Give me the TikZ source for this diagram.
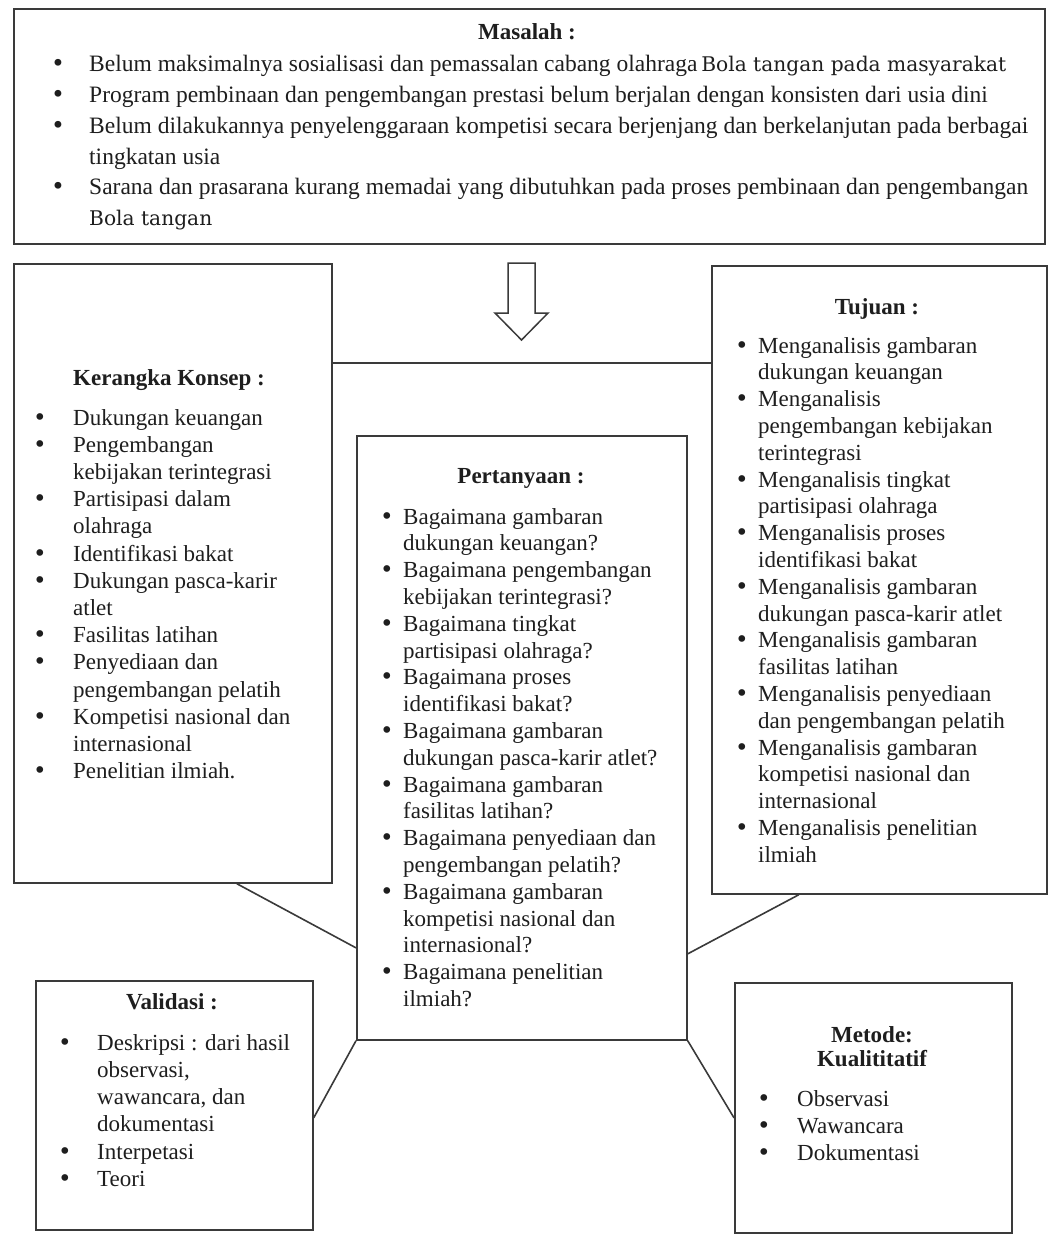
\documentclass[tikz,border=0pt]{standalone}
\usepackage{fontspec}
\setmainfont{Liberation Serif}
\newfontfamily\bolafont{DejaVu Serif}
\newfontfamily\bulfont{DejaVu Sans}
\usetikzlibrary{calc}
\definecolor{linec}{HTML}{3A3A3A}
\definecolor{textc}{HTML}{1E1E1E}
\newcommand{\bi}{{\bulfont •}}
\begin{document}
\begin{tikzpicture}[x=1pt,y=-1pt,
  box/.style={draw=linec,line width=1.7pt,inner sep=0pt,anchor=north west},
  topbox/.style={draw=linec,line width=2.4pt,inner sep=0pt,anchor=north west},
  conn/.style={draw=linec,line width=1.6pt},
  ttl/.style={inner sep=0pt,anchor=base,text=textc,font=\fontsize{23}{26}\selectfont\bfseries},
  lst/.style={inner sep=0pt,anchor=base west,text=textc,align=left}
]
\useasboundingbox (0,0) rectangle (1048,1252);
\fill[white] (0,0) rectangle (1048,1252);

% boxes
\node[topbox,minimum width=1031pt,minimum height=235pt] (mas) at (13,8) {};
\node[box,minimum width=318pt,minimum height=619pt] (ker) at (13,263) {};
\node[box,minimum width=335pt,minimum height=628pt] (tuj) at (711,265) {};
\node[box,minimum width=330pt,minimum height=604pt] (per) at (356,435) {};
\node[box,minimum width=277pt,minimum height=249pt] (val) at (35,980) {};
\node[box,minimum width=277pt,minimum height=250pt] (met) at (734,982) {};

% arrow
\coordinate (ar) at (521.5,263);
\draw[linec,line width=1.5pt,fill=white,line join=miter]
  ($(ar)+(-13.5,0)$) -- ($(ar)+(13.5,0)$) -- ($(ar)+(13.5,50)$) -- ($(ar)+(26.5,50)$)
  -- ($(ar)+(0,77)$) -- ($(ar)+(-26.5,50)$) -- ($(ar)+(-13.5,50)$) -- cycle;

% connectors
\draw[conn] ([yshift=210.5pt]ker.east) -- ([yshift=210.5pt]ker.east -| tuj.west);
\draw[conn] ([xshift=64pt]ker.south) -- ([yshift=-210pt]per.west);
\draw[conn] ([xshift=-80.5pt]tuj.south) -- ([yshift=-216pt]per.east);
\draw[conn] (per.south west) -- ([yshift=-12.5pt]val.east);
\draw[conn] (per.south east) -- ([yshift=-10pt]met.west);

% Masalah
\node[ttl] (masT) at (527,40) {Masalah :};
\node[lst,font=\fontsize{23.5}{30.7}\selectfont] (masL) at (51,72) {%
\begin{tabular}[t]{@{}p{38pt}@{}l@{}}
\bi & Belum maksimalnya sosialisasi dan pemassalan cabang olahraga\,{\bolafont\fontsize{20.2}{20}\selectfont Bola tangan pada masyarakat}\\
\bi & Program pembinaan dan pengembangan prestasi belum berjalan dengan konsisten dari usia dini\\
\bi & Belum dilakukannya penyelenggaraan kompetisi secara berjenjang dan berkelanjutan pada berbagai\\
 & tingkatan usia\\
\bi & Sarana dan prasarana kurang memadai yang dibutuhkan pada proses pembinaan dan pengembangan\\
 & {\bolafont\fontsize{20.2}{20}\selectfont Bola tangan}
\end{tabular}};

% Kerangka Konsep
\node[ttl,anchor=base west] (kerT) at (73,385) {Kerangka Konsep :};
\node[lst,font=\fontsize{23}{27.2}\selectfont] (kerL) at (33,425) {%
\begin{tabular}[t]{@{}p{40pt}@{}l@{}}
\bi & Dukungan keuangan\\
\bi & Pengembangan\\
 & kebijakan terintegrasi\\
\bi & Partisipasi dalam\\
 & olahraga\\
\bi & Identifikasi bakat\\
\bi & Dukungan pasca-karir\\
 & atlet\\
\bi & Fasilitas latihan\\
\bi & Penyediaan dan\\
 & pengembangan pelatih\\
\bi & Kompetisi nasional dan\\
 & internasional\\
\bi & Penelitian ilmiah.
\end{tabular}};

% Pertanyaan
\node[ttl] (perT) at (521,483) {Pertanyaan :};
\node[lst,font=\fontsize{23}{26.8}\selectfont] (perL) at (380,524) {%
\begin{tabular}[t]{@{}p{23pt}@{}l@{}}
\bi & Bagaimana gambaran\\
 & dukungan keuangan?\\
\bi & Bagaimana pengembangan\\
 & kebijakan terintegrasi?\\
\bi & Bagaimana tingkat\\
 & partisipasi olahraga?\\
\bi & Bagaimana proses\\
 & identifikasi bakat?\\
\bi & Bagaimana gambaran\\
 & dukungan pasca-karir atlet?\\
\bi & Bagaimana gambaran\\
 & fasilitas latihan?\\
\bi & Bagaimana penyediaan dan\\
 & pengembangan pelatih?\\
\bi & Bagaimana gambaran\\
 & kompetisi nasional dan\\
 & internasional?\\
\bi & Bagaimana penelitian\\
 & ilmiah?
\end{tabular}};

% Tujuan
\node[ttl] (tujT) at (877,314) {Tujuan :};
\node[lst,font=\fontsize{23}{26.8}\selectfont] (tujL) at (735,353) {%
\begin{tabular}[t]{@{}p{23pt}@{}l@{}}
\bi & Menganalisis gambaran\\
 & dukungan keuangan\\
\bi & Menganalisis\\
 & pengembangan kebijakan\\
 & terintegrasi\\
\bi & Menganalisis tingkat\\
 & partisipasi olahraga\\
\bi & Menganalisis proses\\
 & identifikasi bakat\\
\bi & Menganalisis gambaran\\
 & dukungan pasca-karir atlet\\
\bi & Menganalisis gambaran\\
 & fasilitas latihan\\
\bi & Menganalisis penyediaan\\
 & dan pengembangan pelatih\\
\bi & Menganalisis gambaran\\
 & kompetisi nasional dan\\
 & internasional\\
\bi & Menganalisis penelitian\\
 & ilmiah
\end{tabular}};

% Validasi
\node[ttl] (valT) at (172,1009) {Validasi :};
\node[lst,font=\fontsize{23}{27.3}\selectfont] (valL) at (58,1050) {%
\begin{tabular}[t]{@{}p{39pt}@{}l@{}}
\bi & Deskripsi : dari hasil\\
 & observasi,\\
 & wawancara, dan\\
 & dokumentasi\\
\bi & Interpetasi\\
\bi & Teori
\end{tabular}};

% Metode
\node[ttl] (metT) at (872,1042) {Metode:};
\node[ttl] (metT2) at (872,1066) {Kualititatif};
\node[lst,font=\fontsize{23}{27.3}\selectfont] (metL) at (757,1106) {%
\begin{tabular}[t]{@{}p{40pt}@{}l@{}}
\bi & Observasi\\
\bi & Wawancara\\
\bi & Dokumentasi
\end{tabular}};
\end{tikzpicture}
\end{document}
